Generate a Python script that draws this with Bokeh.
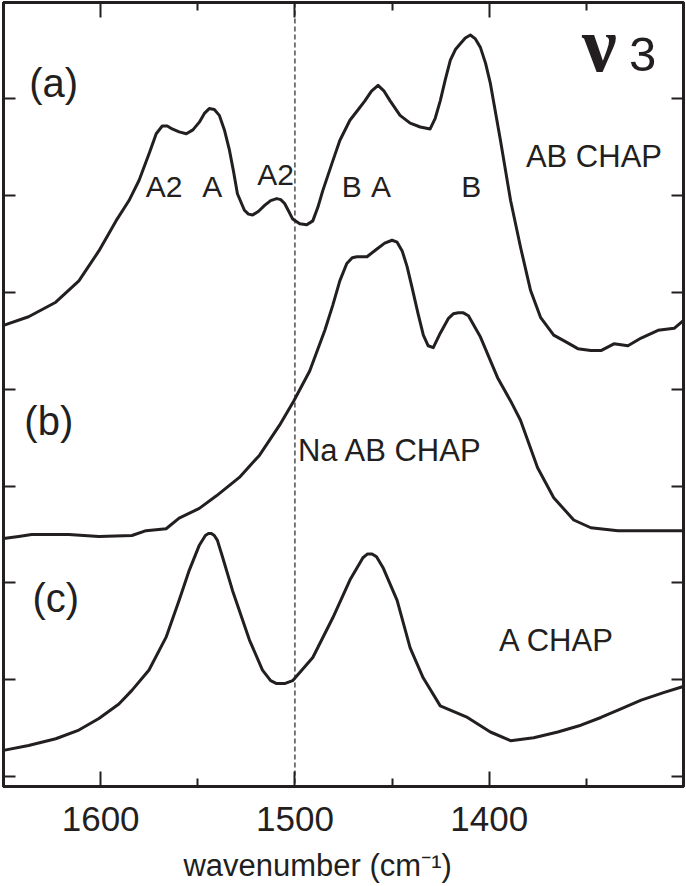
from bokeh.plotting import figure
from bokeh.models import FixedTicker, LinearAxis, Span, Label, Range1d
from bokeh.embed import file_html
from bokeh.resources import INLINE

# ---- data (wavenumber in cm-1, absorbance in offset units) ----
wn_a = [1650.0, 1637.1, 1623.1, 1611.2, 1600.9, 1592.1, 1585.4, 1580.2, 1574.8, 1571.4,
        1568.3, 1565.7, 1563.2, 1559.6, 1555.9, 1552.5, 1549.2, 1546.6, 1544.1, 1541.5,
        1538.9, 1536.3, 1533.7, 1531.6, 1529.6, 1526.0, 1523.9, 1521.8, 1518.7, 1515.6,
        1512.5, 1509.4, 1507.3, 1505.3, 1503.2, 1501.2, 1497.5, 1493.9, 1490.8, 1488.2,
        1485.7, 1480.5, 1476.9, 1471.7, 1467.8, 1464.0, 1460.6, 1457.2, 1454.1, 1451.0,
        1445.9, 1440.7, 1435.5, 1430.4, 1427.8, 1425.2, 1422.6, 1420.0, 1417.4, 1414.9,
        1412.3, 1409.7, 1407.1, 1404.5, 1401.9, 1399.4, 1394.2, 1389.0, 1383.9, 1378.7,
        1373.5, 1366.8, 1359.6, 1354.4, 1347.7, 1342.5, 1335.8, 1328.6, 1321.8, 1313.1,
        1304.8, 1300.1]
ab_a = [4.66, 4.75, 4.90, 5.12, 5.43, 5.74, 5.95, 6.16, 6.45, 6.64,
        6.72, 6.72, 6.69, 6.66, 6.64, 6.68, 6.76, 6.85, 6.90, 6.89,
        6.83, 6.68, 6.47, 6.25, 6.02, 5.85, 5.81, 5.80, 5.84, 5.90,
        5.95, 5.97, 5.96, 5.92, 5.84, 5.76, 5.71, 5.70, 5.74, 5.88,
        6.05, 6.36, 6.57, 6.78, 6.88, 6.98, 7.08, 7.14, 7.08, 6.98,
        6.83, 6.75, 6.71, 6.69, 6.80, 6.98, 7.20, 7.40, 7.51, 7.57,
        7.63, 7.66, 7.62, 7.53, 7.37, 7.16, 6.57, 5.95, 5.47, 5.02,
        4.74, 4.56, 4.48, 4.42, 4.40, 4.40, 4.47, 4.45, 4.53, 4.61,
        4.63, 4.71]

wn_b = [1650.0, 1642.2, 1635.5, 1616.4, 1600.9, 1583.9, 1576.6, 1566.3, 1559.6, 1549.2,
        1540.4, 1528.6, 1518.2, 1507.9, 1500.6, 1492.4, 1484.6, 1480.5, 1476.9, 1473.3,
        1470.5, 1468.1, 1462.9, 1457.8, 1453.8, 1450.0, 1447.4, 1444.8, 1442.3, 1439.7,
        1436.6, 1433.9, 1431.4, 1428.8, 1425.2, 1421.1, 1418.5, 1415.9, 1413.3, 1410.7,
        1404.5, 1395.7, 1389.0, 1383.9, 1375.1, 1366.8, 1356.5, 1347.7, 1333.7, 1316.7,
        1300.1]
ab_b = [2.46, 2.48, 2.50, 2.50, 2.48, 2.49, 2.54, 2.56, 2.67, 2.77,
        2.90, 3.09, 3.32, 3.63, 3.88, 4.19, 4.61, 4.87, 5.12, 5.30,
        5.36, 5.37, 5.37, 5.45, 5.51, 5.54, 5.52, 5.43, 5.27, 5.05,
        4.78, 4.56, 4.45, 4.43, 4.58, 4.73, 4.78, 4.79, 4.79, 4.76,
        4.54, 4.12, 3.88, 3.68, 3.19, 2.88, 2.65, 2.57, 2.54, 2.54,
        2.54]

wn_c = [1650.0, 1637.1, 1623.1, 1611.2, 1600.9, 1590.6, 1583.9, 1575.1, 1566.3, 1559.6,
        1554.4, 1549.2, 1546.1, 1544.5, 1543.0, 1541.5, 1539.9, 1537.3, 1532.1, 1523.4,
        1516.7, 1512.5, 1509.4, 1505.3, 1501.2, 1490.8, 1480.5, 1471.7, 1465.0, 1462.6,
        1460.3, 1458.0, 1454.7, 1447.4, 1440.7, 1434.0, 1425.2, 1411.2, 1399.4, 1389.0,
        1377.1, 1364.7, 1352.8, 1342.5, 1332.2, 1321.8, 1309.9, 1300.1]
ab_c = [0.27, 0.32, 0.39, 0.48, 0.60, 0.75, 0.89, 1.10, 1.44, 1.82,
        2.13, 2.39, 2.49, 2.51, 2.51, 2.49, 2.44, 2.27, 1.92, 1.41,
        1.10, 0.99, 0.96, 0.96, 0.99, 1.23, 1.64, 2.03, 2.26, 2.30,
        2.30, 2.27, 2.16, 1.82, 1.33, 1.02, 0.73, 0.61, 0.46, 0.37,
        0.40, 0.46, 0.53, 0.61, 0.70, 0.79, 0.87, 0.93]

x_major_ticks = [1600, 1500, 1400]
x_minor_ticks = [1550, 1450, 1350]
y_ticks = [0, 1, 2, 3, 4, 5, 6, 7]
marker_wavenumber = 1500

INK = "#231f20"
SANS = "Liberation Sans"

p = figure(width=686, height=886, output_backend="svg", toolbar_location=None,
           x_range=Range1d(1650, 1300), y_range=Range1d(-0.103, 7.996),
           min_border_left=3, min_border_right=3, min_border_top=2, min_border_bottom=100)
p.grid.visible = False
p.outline_line_color = INK
p.outline_line_width = 3
p.background_fill_color = "white"
p.border_fill_color = "white"

def style_axis(ax, is_x, show_labels):
    ax.axis_line_color = INK
    ax.axis_line_width = 3
    ax.major_tick_line_color = INK
    ax.major_tick_line_width = 2
    ax.minor_tick_line_color = INK
    ax.minor_tick_line_width = 2
    ax.major_tick_out = 0
    ax.minor_tick_out = 0
    if is_x:
        ax.ticker = FixedTicker(ticks=x_major_ticks, minor_ticks=x_minor_ticks)
        ax.major_tick_in = 15
        ax.minor_tick_in = 8
    else:
        ax.ticker = FixedTicker(ticks=y_ticks, minor_ticks=[])
        ax.major_tick_in = 12
        ax.minor_tick_in = 0
    if show_labels:
        ax.major_label_text_font = SANS
        ax.major_label_text_font_size = "35px"
        ax.major_label_text_color = INK
        ax.major_label_standoff = 20
    else:
        ticks = x_major_ticks if is_x else y_ticks
        ax.major_label_overrides = {t: "" for t in ticks}
        ax.major_label_standoff = 0

xax = p.xaxis[0]
style_axis(xax, True, True)
xax.axis_label = "wavenumber (cm\u207b\u00b9)\u2007\u2007\u2007"
xax.axis_label_text_font = SANS
xax.axis_label_text_font_size = "31px"
xax.axis_label_text_font_style = "normal"
xax.axis_label_text_color = INK
xax.axis_label_standoff = 14

style_axis(p.yaxis[0], False, False)
top_ax = LinearAxis()
style_axis(top_ax, True, False)
p.add_layout(top_ax, "above")
right_ax = LinearAxis()
style_axis(right_ax, False, False)
p.add_layout(right_ax, "right")

# dashed marker
p.add_layout(Span(location=marker_wavenumber, dimension="height", line_color=INK,
                  line_width=1.2, line_dash="5 3"))

for wn, ab in [(wn_a, ab_a), (wn_b, ab_b), (wn_c, ab_c)]:
    p.line(wn, ab, line_color=INK, line_width=3, line_join="round", line_cap="round")

def lab(x, y, text, size, align="center", font=SANS, style="normal"):
    p.add_layout(Label(x=x, y=y, text=text, text_font=font, text_font_size=size,
                       text_color=INK, text_align=align, text_baseline="alphabetic",
                       text_font_style=style))

# panel labels
lab(1624.2, 7.167, "(a)", "40px")
lab(1626.7, 3.676, "(b)", "40px")
lab(1623.1, 1.847, "(c)", "40px")
# band assignments
lab(1567.3, 6.096, "A2", "30px")
lab(1542.5, 6.096, "A", "30px")
lab(1509.9, 6.220, "A2", "30px")
lab(1470.7, 6.096, "B", "30px")
lab(1455.7, 6.096, "A", "30px")
lab(1409.2, 6.096, "B", "30px")
# sample names
lab(1346.1, 6.410, "AB CHAP", "31px")
lab(1451.0, 3.363, "Na AB CHAP", "31px")
lab(1365.2, 1.410, "A CHAP", "31px")
# nu3
lab(1352.3, 7.560, "ν", "78px", align="left", font="Liberation Serif", style="bold")
lab(1328.0, 7.455, "3", "49px", align="left")

open("out.html", "w").write(file_html(p, INLINE))
